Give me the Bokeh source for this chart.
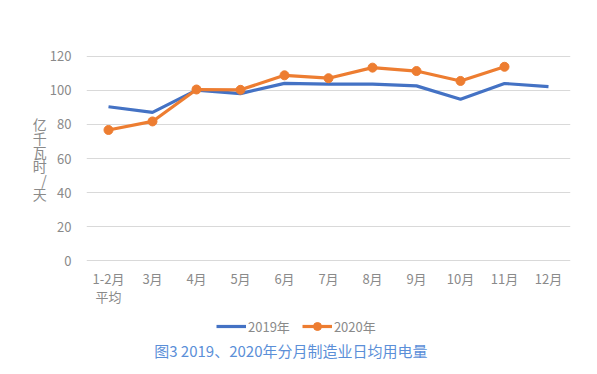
import numpy as np
from bokeh.plotting import figure
from bokeh.layouts import column
from bokeh.models import FactorRange, Range1d, Legend, LegendItem, Label
from bokeh.embed import file_html
from bokeh.resources import INLINE

categories = ["1-2月\n平均", "3月", "4月", "5月", "6月", "7月", "8月", "9月", "10月", "11月", "12月"]
v2019 = [90.3, 87.0, 100.0, 98.0, 104.0, 103.5, 103.5, 102.5, 94.7, 103.9, 102.1]
cats2020 = categories[:10]
v2020 = [76.7, 81.7, 100.4, 100.2, 108.7, 107.0, 113.2, 111.2, 105.4, 113.7]
y_ticks = [0, 20, 40, 60, 80, 100, 120]
series_names = ["2019年", "2020年"]
chart_title = "图3  2019、2020年分月制造业日均用电量"

FONT = "Noto Sans CJK SC"
BLUE = "#4472C4"
ORANGE = "#ED7D31"
GRAY = "#8a8a8a"

W = 589
H1 = 312
BL, BR = 86, 19
p = figure(width=W, height=H1, x_range=FactorRange(*categories, range_padding=0),
           y_range=Range1d(-0.3, 120.3), output_backend="svg", toolbar_location=None,
           min_border_left=BL, min_border_right=BR, min_border_top=55, min_border_bottom=H1 - 261)
p.outline_line_color = None
p.xaxis.axis_line_color = None
p.yaxis.axis_line_color = None
p.xaxis.major_tick_line_color = None
p.yaxis.major_tick_line_color = None
p.xaxis.minor_tick_line_color = None
p.yaxis.minor_tick_line_color = None
p.yaxis.ticker = y_ticks
p.xgrid.grid_line_color = None
p.ygrid.grid_line_color = "#d9d9d9"
for ax in (p.xaxis, p.yaxis):
    ax.major_label_text_font = FONT
    ax.major_label_text_font_size = "13px"
    ax.major_label_text_color = GRAY
p.yaxis.major_label_standoff = 9
p.xaxis.major_label_standoff = 1
p.xaxis.major_label_text_line_height = 0.95

yax = p.yaxis[0]
yax.axis_label = "亿\n千\n瓦\n时\n/\n天"
yax.axis_label_text_font = FONT
yax.axis_label_text_font_size = "14px"
yax.axis_label_text_font_style = "normal"
yax.axis_label_text_color = GRAY
yax.axis_label_text_line_height = 0.7
yax.axis_label_standoff = 0
if "axis_label_orientation" in yax.properties():
    yax.axis_label_orientation = "horizontal"

p.line(categories, v2019, line_color=BLUE, line_width=3.2)
p.line(cats2020, v2020, line_color=ORANGE, line_width=3.2)
p.scatter(cats2020, v2020, size=9, fill_color=ORANGE, line_color=ORANGE)

# footer figure: legend + caption (x data units = page pixels)
H2 = 366 - H1
f = figure(width=W, height=H2, x_range=Range1d(BL, W - BR), y_range=Range1d(0, H2),
           output_backend="svg", toolbar_location=None,
           min_border_left=BL, min_border_right=BR, min_border_top=0, min_border_bottom=0)
f.axis.visible = False
f.grid.visible = False
f.outline_line_color = None
nan = np.array([np.nan])
l1 = f.line(nan, nan, line_color=BLUE, line_width=3.2)
l2 = f.line(nan, nan, line_color=ORANGE, line_width=3.2)
l2c = f.scatter(nan, nan, size=9, fill_color=ORANGE, line_color=ORANGE)
legend = Legend(items=[LegendItem(label=series_names[0], renderers=[l1]),
                       LegendItem(label=series_names[1], renderers=[l2, l2c])],
                orientation="horizontal", location=(130, 30),
                label_text_font=FONT, label_text_font_size="13px", label_text_color=GRAY,
                background_fill_alpha=0, border_line_color=None, glyph_width=30,
                label_standoff=2, spacing=12, padding=2, margin=0)
f.add_layout(legend)
f.add_layout(Label(x=292, y=16, text=chart_title, text_font=FONT, text_font_size="15px",
                   text_color="#5b8fd8", text_align="center", text_baseline="middle"))

open("out.html", "w").write(file_html(column(p, f, spacing=0), INLINE))
